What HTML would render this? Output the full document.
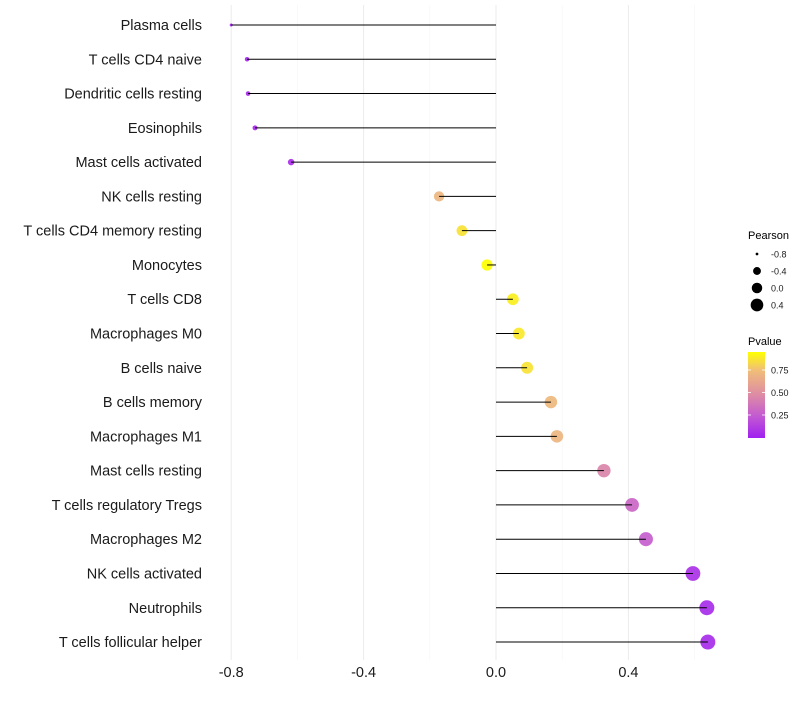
<!DOCTYPE html>
<html><head><meta charset="utf-8"><style>
body{margin:0;background:#fff;font-family:"Liberation Sans",sans-serif}
</style></head><body>
<svg id="chart" width="800" height="700" xmlns="http://www.w3.org/2000/svg"></svg>
<script>
const categories=["Plasma cells","T cells CD4 naive","Dendritic cells resting","Eosinophils","Mast cells activated","NK cells resting","T cells CD4 memory resting","Monocytes","T cells CD8","Macrophages M0","B cells naive","B cells memory","Macrophages M1","Mast cells resting","T cells regulatory  Tregs ","Macrophages M2","NK cells activated","Neutrophils","T cells follicular helper"];
const pearson=[-0.80,-0.752,-0.749,-0.728,-0.619,-0.172,-0.103,-0.027,0.051,0.069,0.094,0.166,0.184,0.326,0.411,0.453,0.595,0.637,0.640];
const pvalues=[0.02,0.03,0.03,0.04,0.06,0.70,0.86,0.95,0.90,0.88,0.86,0.72,0.70,0.45,0.30,0.26,0.07,0.05,0.05];
const xTicks=[-0.8,-0.4,0.0,0.4];
const xTickLabels=["-0.8","-0.4","0.0","0.4"];
const sizeLegend=[-0.8,-0.4,0.0,0.4];
const colorLegend=[0.25,0.50,0.75];

const NS="http://www.w3.org/2000/svg";
const svg=document.getElementById('chart');
function X(v){return 496+v*331;}
function Y(i){return 25+i*34.28;}
function R(v){const t=Math.max(0,(v+0.8)/1.44);return 1.5+6*Math.pow(t,0.6);}
function lerp(a,b,t){return a+(b-a)*t;}
const stops=[[0,[160,32,240]],[0.25,[196,92,208]],[0.5,[224,144,160]],[0.75,[240,190,120]],[0.95,[255,255,0]]];
function C(p){
  p=Math.min(0.95,Math.max(0,p));
  let k=0;while(k<stops.length-2&&p>stops[k+1][0])k++;
  const a=stops[k],b=stops[k+1];
  const t=(p-a[0])/(b[0]-a[0]);
  return `rgb(${[0,1,2].map(j=>Math.round(lerp(a[1][j],b[1][j],t))).join(',')})`;
}
function mk(tag,attrs,txt){const e=document.createElementNS(NS,tag);for(const k in attrs)e.setAttribute(k,attrs[k]);if(txt!==undefined)e.textContent=txt;svg.appendChild(e);return e;}

[-0.8,-0.6,-0.4,-0.2,0,0.2,0.4,0.6].forEach((v,i)=>{
  const g=mk('line',{x1:X(v),x2:X(v),y1:5,y2:660,stroke:i%2===0?'#ebebeb':'#f5f5f5','stroke-width':i%2===0?1:0.6});
  
  
});
categories.forEach((c,i)=>{
  const pt=mk('circle',{cx:X(pearson[i]),cy:Y(i),r:R(pearson[i]),fill:C(pvalues[i]),'fill-opacity':0.92});
  
  
  const ln=mk('line',{x1:X(0),x2:X(pearson[i]),y1:Y(i),y2:Y(i),stroke:'#000','stroke-width':1});
  
  
  const lb=mk('text',{x:202,y:Y(i)+5,'text-anchor':'end','font-size':14.5,fill:'#1a1a1a'},c);
  
  
});
xTicks.forEach((v,i)=>{
  const t=mk('text',{x:X(v),y:677,'text-anchor':'middle','font-size':14.5,fill:'#1a1a1a'},xTickLabels[i]);
  
  
});
const st=mk('text',{x:748,y:239,'font-size':11,fill:'#000'},'Pearson');


sizeLegend.forEach((v,i)=>{
  const y=254+i*17;
  const c=mk('circle',{cx:757,cy:y,r:R(v)*0.92,fill:'#000'});
  
  
  const t=mk('text',{x:771,y:y+3.5,'font-size':9,fill:'#1a1a1a'},v.toFixed(1));
  
  
});
const ct=mk('text',{x:748,y:345,'font-size':11,fill:'#000'},'Pvalue');


const defs=document.createElementNS(NS,'defs');svg.appendChild(defs);
const lg=document.createElementNS(NS,'linearGradient');
lg.setAttribute('id','pg');lg.setAttribute('x1','0');lg.setAttribute('y1','1');lg.setAttribute('x2','0');lg.setAttribute('y2','0');
defs.appendChild(lg);
for(let k=0;k<=20;k++){const s=document.createElementNS(NS,'stop');s.setAttribute('offset',k/20);s.setAttribute('stop-color',C(0.95*k/20));lg.appendChild(s);}
const bar=mk('rect',{x:748,y:352,width:17,height:86,fill:'url(#pg)'});


colorLegend.forEach(v=>{
  const y=437.5-v*90;
  mk('line',{x1:748,x2:751,y1:y,y2:y,stroke:'#fff','stroke-width':0.8});
  mk('line',{x1:762,x2:765,y1:y,y2:y,stroke:'#fff','stroke-width':0.8});
  const t=mk('text',{x:771,y:y+3.5,'font-size':9,fill:'#1a1a1a'},v.toFixed(2));
  
  
});
</script>
</body></html>
